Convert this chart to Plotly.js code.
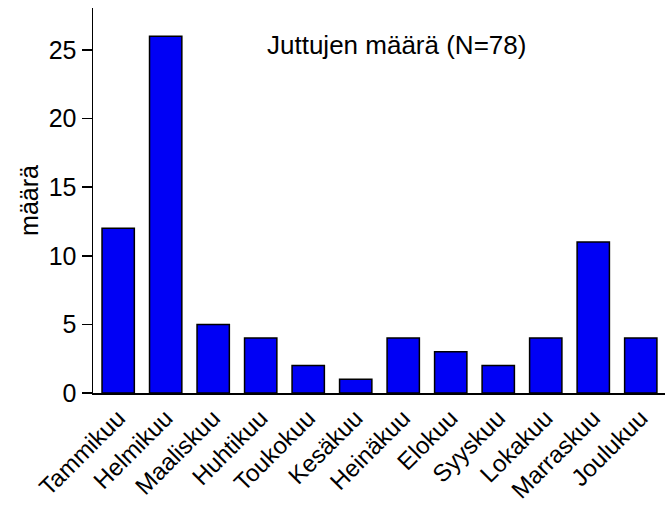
<!DOCTYPE html>
<html>
<head>
<meta charset="utf-8">
<script src="https://cdn.plot.ly/plotly-3.0.1.min.js"></script>
<style>html,body{margin:0;padding:0;background:#fff;}#chart{width:665px;height:509px;}</style>
</head>
<body>
<div id="chart"></div>
<script>
const months = ["Tammikuu","Helmikuu","Maaliskuu","Huhtikuu","Toukokuu","Kesäkuu","Heinäkuu","Elokuu","Syyskuu","Lokakuu","Marraskuu","Joulukuu"];
const counts = [12, 26, 5, 4, 2, 1, 4, 3, 2, 4, 11, 4];
const chartTitle = "Juttujen määrä (N=78)";
const yTitle = "määrä";

const trace = {
  type: "bar",
  x: months,
  y: counts,
  width: 0.68,
  marker: {color: "#0000f5", line: {color: "#000000", width: 1.5}},
  hoverinfo: "x+y"
};

const layout = {
  width: 665, height: 509,
  margin: {l: 93, r: 0, t: 8, b: 116},
  paper_bgcolor: "#ffffff",
  plot_bgcolor: "#ffffff",
  font: {family: "Liberation Sans, Arial, sans-serif", color: "#000000"},
  showlegend: false,
  xaxis: {
    type: "category",
    range: [-0.53, 11.51],
    automargin: false,
    showline: true, linecolor: "#000", linewidth: 1.5,
    ticks: "", showgrid: false, zeroline: false,
    tickangle: -45,
    tickfont: {size: 24, color: "#000"}
  },
  yaxis: {
    range: [0, 28.06],
    automargin: false,
    tickvals: [0, 5, 10, 15, 20, 25],
    showline: true, linecolor: "#000", linewidth: 1.5,
    ticks: "outside", ticklen: 10, tickwidth: 1.5, tickcolor: "#000",
    showgrid: false, zeroline: false,
    tickfont: {size: 25, color: "#000"},
    title: {text: yTitle, font: {size: 25, color: "#000"}, standoff: 3}
  },
  annotations: [{
    text: chartTitle, xref: "paper", yref: "paper",
    x: 0.53, y: 0.904, xanchor: "center", yanchor: "middle",
    showarrow: false, font: {size: 26, color: "#000"}
  }]
};

Plotly.newPlot("chart", [trace], layout, {displayModeBar: false, staticPlot: true});
</script>
</body>
</html>
